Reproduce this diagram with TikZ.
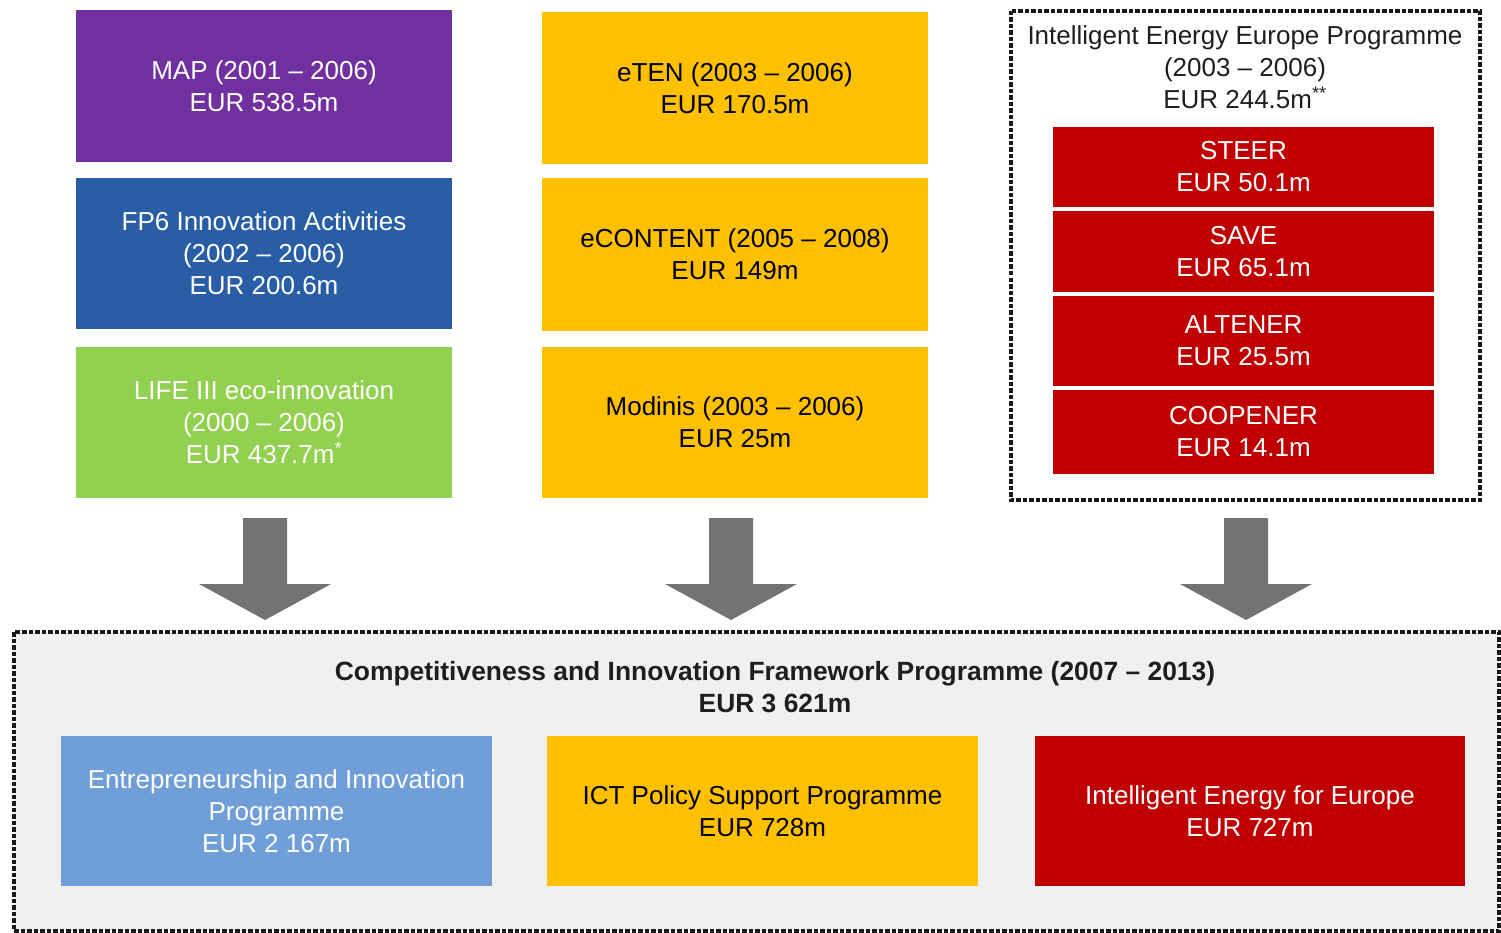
\documentclass[tikz,border=0pt]{standalone}
\usepackage{fontspec}
\setmainfont{Liberation Sans}
\usetikzlibrary{calc}
\definecolor{cpurple}{RGB}{112,48,160}
\definecolor{cblue}{RGB}{41,94,166}
\definecolor{cgreen}{RGB}{146,208,80}
\definecolor{cyellow}{RGB}{255,192,0}
\definecolor{cred}{RGB}{192,0,0}
\definecolor{clblue}{RGB}{111,158,216}
\definecolor{cbg}{RGB}{240,240,240}
\definecolor{carrow}{RGB}{115,115,115}
\definecolor{ctext}{RGB}{30,30,30}
\tikzset{
  box/.style={rectangle, inner sep=0pt, align=center, font=\fontsize{26}{32}\selectfont},
  colbox/.style={box, minimum width=376pt, minimum height=152pt},
  midbox/.style={box, minimum width=386pt, minimum height=152pt},
  redbox/.style={box, fill=cred, text=white, minimum width=381pt},
  botbox/.style={box, minimum width=431pt, minimum height=150pt},
  dashframe/.style={draw=black!90, line width=3.5pt, dash pattern=on 4.5pt off 2pt},
  bigarrow/.style={fill=carrow, draw=none},
}
\begin{document}
\begin{tikzpicture}[x=1pt,y=-1pt]
\useasboundingbox (0,0) rectangle (1501,933);

% left column
\node[colbox, fill=cpurple, text=white] (map) at (264,86) {MAP (2001 -- 2006)\\EUR 538.5m};
\node[colbox, fill=cblue, text=white, minimum height=151pt] (fp6) at (264,253.5) {FP6 Innovation Activities\\(2002 -- 2006)\\EUR 200.6m};
\node[colbox, fill=cgreen, text=white, minimum height=151pt] (life) at (264,422.5) {LIFE III eco-innovation\\(2000 -- 2006)\\EUR 437.7m\textsuperscript{*}};

% middle column
\node[midbox, fill=cyellow, text=black] (eten) at (735,88) {eTEN (2003 -- 2006)\\EUR 170.5m};
\node[midbox, fill=cyellow, text=black, minimum height=153pt] (econtent) at (735,254.5) {eCONTENT (2005 -- 2008)\\EUR 149m};
\node[midbox, fill=cyellow, text=black, minimum height=151pt] (modinis) at (735,422.5) {Modinis (2003 -- 2006)\\EUR 25m};

% right group
\draw[dashframe] (1011,11) rectangle (1480,500);
\node[box, text=ctext] (ieetitle) at (1245,67) {Intelligent Energy Europe Programme\\(2003 -- 2006)\\EUR 244.5m\textsuperscript{**}};
\node[redbox, minimum height=80pt] (steer) at (1243.5,167) {STEER\\EUR 50.1m};
\node[redbox, minimum height=81pt] (save) at (1243.5,251.5) {SAVE\\EUR 65.1m};
\node[redbox, minimum height=90pt] (altener) at (1243.5,341) {ALTENER\\EUR 25.5m};
\node[redbox, minimum height=84pt] (coopener) at (1243.5,432) {COOPENER\\EUR 14.1m};

% bottom frame
\fill[cbg] (14,632) rectangle (1499,931);
\draw[dashframe] (14,632) rectangle (1499,931);
\node[box, text=ctext, font=\fontsize{26.4}{32}\selectfont\bfseries] (cip) at (775,687) {Competitiveness and Innovation Framework Programme (2007 -- 2013)\\EUR 3 621m};
\node[botbox, fill=clblue, text=white] (eip) at (276.5,811) {Entrepreneurship and Innovation\\Programme\\EUR 2 167m};
\node[botbox, fill=cyellow, text=black] (ict) at (762.5,811) {ICT Policy Support Programme\\EUR 728m};
\node[botbox, fill=cred, text=white, minimum width=430pt] (iee) at (1250,811) {Intelligent Energy for Europe\\EUR 727m};

% big arrows
\foreach \cx/\nm in {265/aL, 731/aM, 1246/aR}{
  \coordinate (\nm) at (\cx,518);
  \fill[bigarrow] ($(\nm)+(-22,0)$) -- ($(\nm)+(22,0)$) -- ($(\nm)+(22,66)$) -- ($(\nm)+(66,66)$)
     -- ($(\nm)+(0,102)$) -- ($(\nm)+(-66,66)$) -- ($(\nm)+(-22,66)$) -- cycle;
}
\end{tikzpicture}
\end{document}
